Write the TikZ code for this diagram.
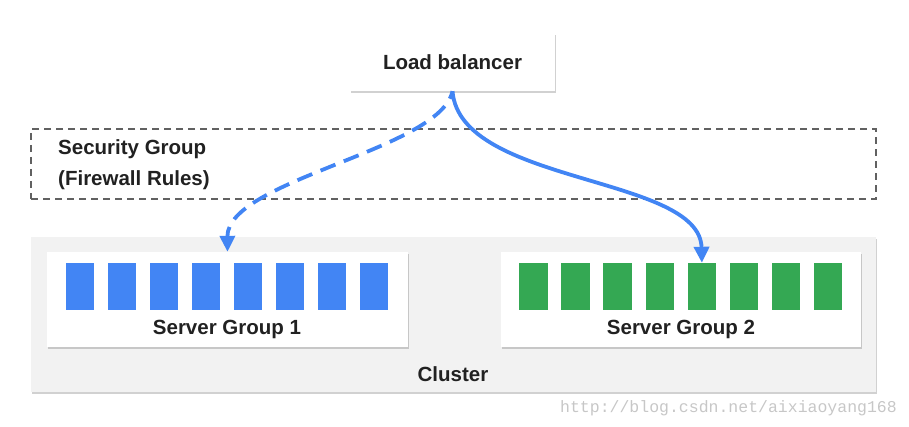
\documentclass[tikz,border=0pt]{standalone}
\usepackage{fontspec}
\setmainfont{Liberation Sans}
\newfontfamily\wmfont{Liberation Mono}
\usetikzlibrary{arrows.meta,shadows}
\definecolor{gblue}{HTML}{4285F4}
\definecolor{ggreen}{HTML}{34A853}
\definecolor{txt}{HTML}{212121}
\definecolor{clfill}{HTML}{F2F2F2}
\definecolor{dashgray}{HTML}{616161}
\tikzset{
  card/.style={draw=none, fill=white, inner sep=0pt,
    drop shadow={shadow xshift=0.8pt, shadow yshift=-1.8pt, opacity=0.3, fill=black!60}},
  clusterbox/.style={draw=none, fill=clfill, inner sep=0pt,
    drop shadow={shadow xshift=0.8pt, shadow yshift=-1.8pt, opacity=0.3, fill=black!60}},
  secbox/.style={draw=dashgray, line width=1.8pt, dash pattern=on 7pt off 5pt, inner sep=0pt},
  lbl/.style={text=txt, font=\bfseries\fontsize{20.5}{24}\selectfont, inner sep=0pt},
  bsq/.style={fill=gblue, draw=none, minimum width=28pt, minimum height=47pt, inner sep=0pt},
  gsq/.style={fill=ggreen, draw=none, minimum width=28.5pt, minimum height=47pt, inner sep=0pt},
  flow/.style={draw=gblue, line width=3.8pt, -{Triangle[width=15pt,length=16pt]}},
}
\begin{document}
\begin{tikzpicture}[x=1pt,y=-1pt]
\useasboundingbox (0,0) rectangle (909,427);
% cluster
\node[clusterbox, minimum width=845pt, minimum height=155pt] (cluster) at (453.5,314.5) {};
\node[lbl] (clusterlbl) at (453,374) {Cluster};
% security group
\node[secbox, minimum width=845pt, minimum height=70pt] (sec) at (453.5,164) {};
\node[lbl, anchor=base west] (sgA) at (58,155) {Security Group};
\node[lbl, anchor=base west] (sgB) at (58,186) {(Firewall Rules)};
% load balancer
\node[card, minimum width=205pt, minimum height=58pt] (lb) at (452.5,62) {};
\node[lbl] (lbl) at (452.5,62) {Load balancer};
% server group 1
\node[card, minimum width=361pt, minimum height=95pt] (sg1) at (227.5,299.5) {};
\foreach \k in {0,...,7}{
  \node[bsq] (b\k) at ({80+42*\k},286.5) {};
}
\node[lbl] (sg1lbl) at (227,329) {Server Group 1};
% server group 2
\node[card, minimum width=360pt, minimum height=95pt] (sg2) at (681,299.5) {};
\foreach \k in {0,...,7}{
  \node[gsq] (g\k) at ({533.5+42.1*\k},286.5) {};
}
\node[lbl] (sg2lbl) at (681,329) {Server Group 2};
% connectors
\draw[flow] (lb.south) .. controls (460,185) and (700,175) .. (g4.north);
\draw[flow, dash pattern=on 16pt off 9pt, dash phase=-17pt] (lb.south) .. controls (440,150) and (227,180) .. (sg1.north);
% watermark
\node[text=black!22, font=\wmfont\fontsize{16.5}{18}\selectfont, anchor=east, inner sep=0pt] (wm) at (897,408) {http://blog.csdn.net/aixiaoyang168};
\end{tikzpicture}
\end{document}
